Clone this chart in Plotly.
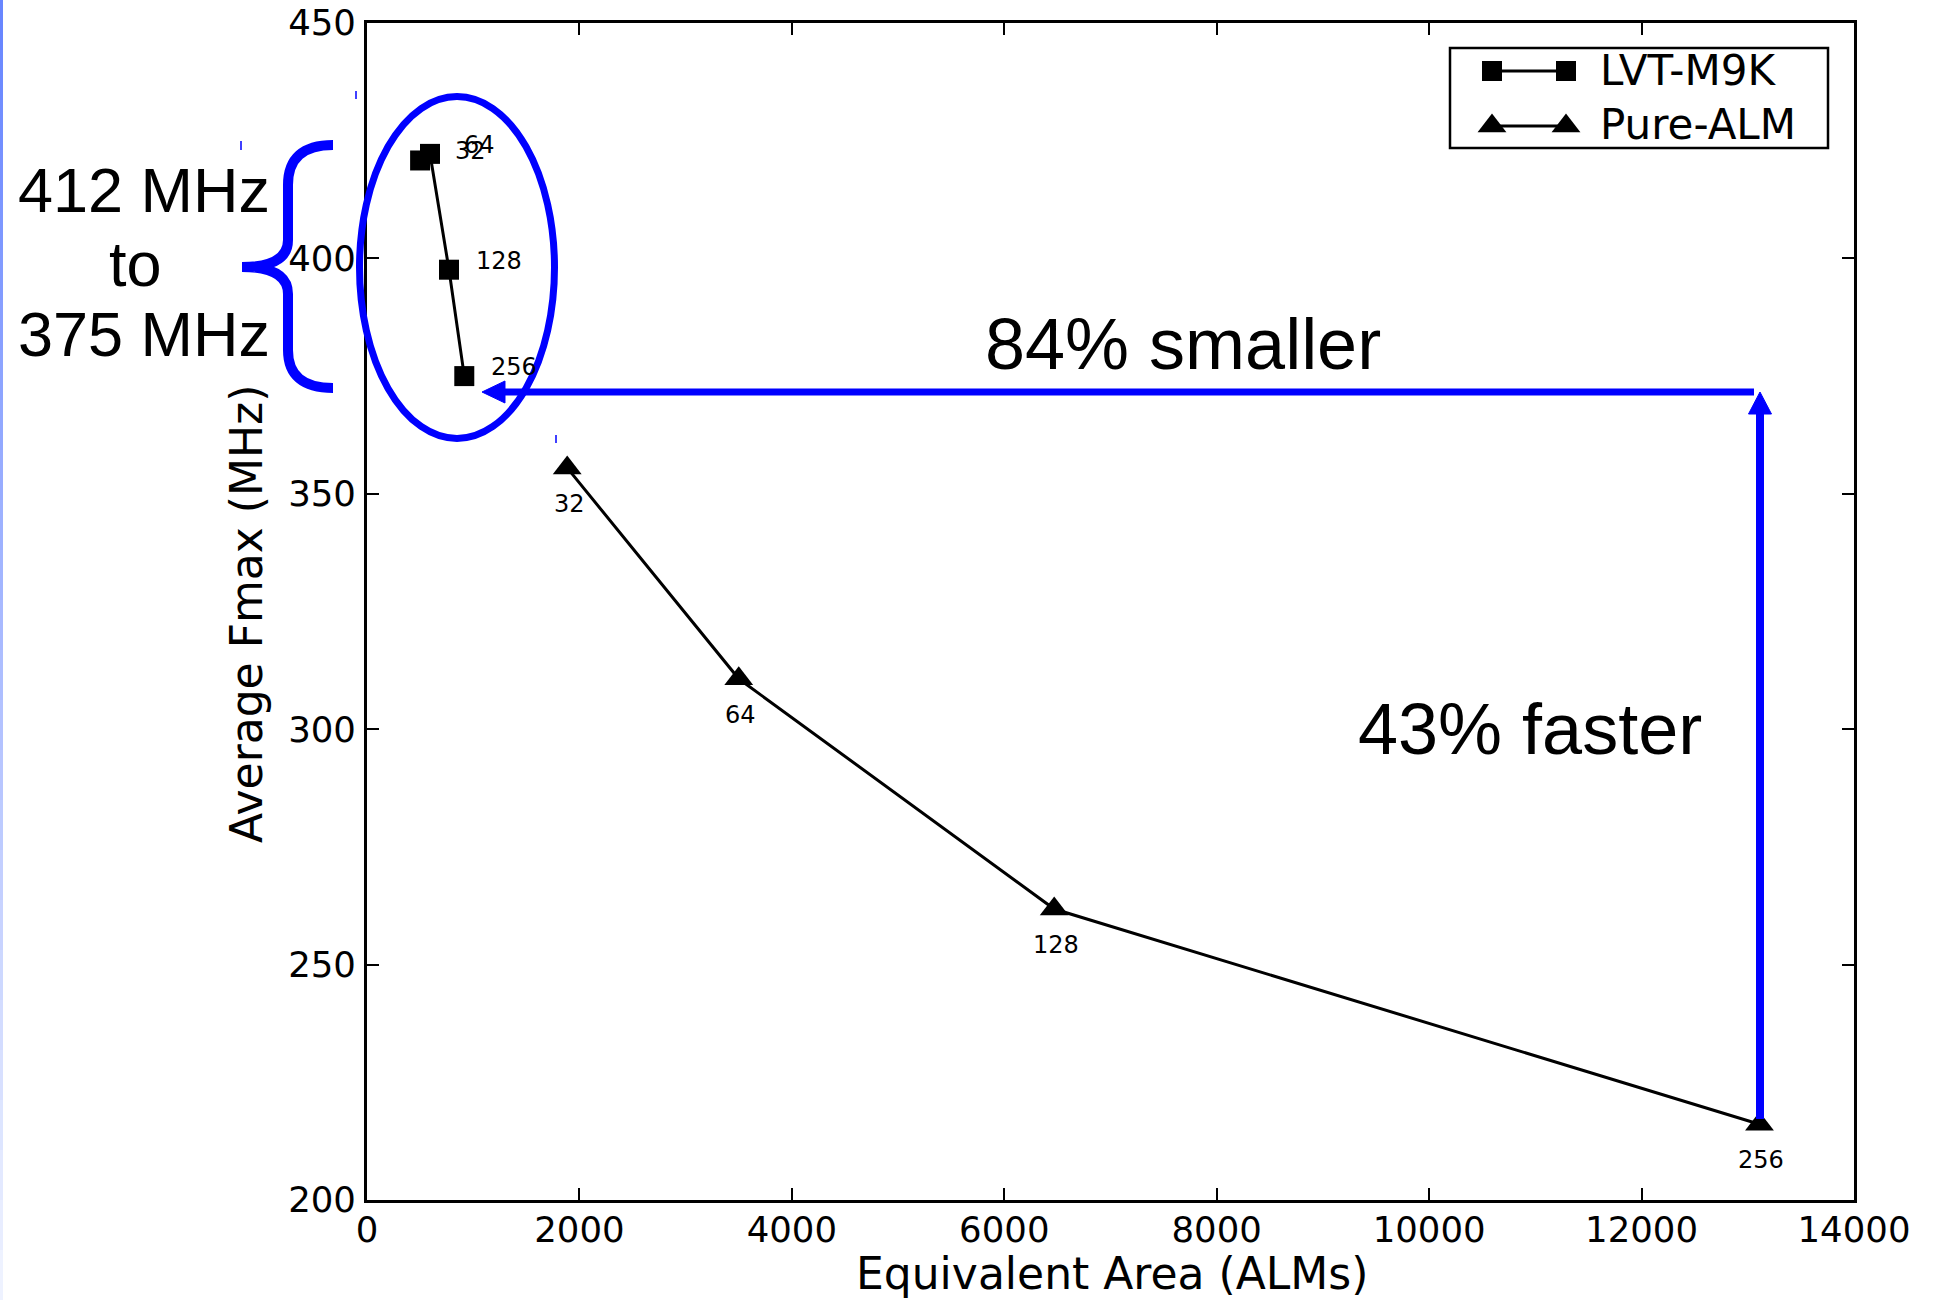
import plotly.graph_objects as go

# ---------------- data ----------------
lvt_area = [500, 593, 772, 916]
lvt_fmax = [420.8, 422.2, 397.6, 375.0]
lvt_labels = ["32", "64", "128", "256"]

alm_area = [1885, 3500, 6470, 13110]
alm_fmax = [355.5, 310.7, 261.8, 216.1]
alm_labels = ["32", "64", "128", "256"]

x_ticks = [0, 2000, 4000, 6000, 8000, 10000, 12000, 14000]
y_ticks = [200, 250, 300, 350, 400, 450]

series_names = ["LVT-M9K", "Pure-ALM"]

# ---------------- layout helpers (pixel -> paper) ----------------
FW, FH = 1937, 1300
L, R, T, B = 367, 1854, 23, 1200


def X(p):
    return (p - L) / (R - L)


def Y(p):
    return (B - p) / (B - T)


BLUE = "#0000ff"
DV = "DejaVu Sans"
AR = "Liberation Sans, Arial"
LW = 3
SQ = 20
TRI = 25

fig = go.Figure()

fig.add_trace(go.Scatter(
    x=lvt_area, y=lvt_fmax, mode="lines+markers", name=series_names[0],
    line=dict(color="black", width=LW),
    marker=dict(symbol="square", size=SQ, color="black"),
    cliponaxis=False, showlegend=False))

fig.add_trace(go.Scatter(
    x=alm_area, y=alm_fmax, mode="lines+markers", name=series_names[1],
    line=dict(color="black", width=LW),
    marker=dict(symbol="triangle-up", size=TRI, color="black"),
    cliponaxis=False, showlegend=False))

# ---------------- custom matplotlib-like legend ----------------
LEG = (1450, 48, 1828, 148)
row_y = [71, 125]
samp_x = [1492, 1566]
fig.add_trace(go.Scatter(
    x=samp_x, y=[row_y[0]] * 2, xaxis="x2", yaxis="y2", mode="lines+markers",
    line=dict(color="black", width=LW),
    marker=dict(symbol="square", size=SQ, color="black"),
    cliponaxis=False, showlegend=False, hoverinfo="skip"))
fig.add_trace(go.Scatter(
    x=samp_x, y=[row_y[1] + 1] * 2, xaxis="x2", yaxis="y2", mode="lines+markers",
    line=dict(color="black", width=LW),
    marker=dict(symbol="triangle-up", size=TRI, color="black"),
    cliponaxis=False, showlegend=False, hoverinfo="skip"))

annotations = []
for name, ry in zip(series_names, row_y):
    annotations.append(dict(
        x=1598, y=ry, xref="x2", yref="y2", text=name, showarrow=False,
        xanchor="left", yanchor="middle", font=dict(family=DV, size=42, color="black")))

# ---------------- point labels ----------------
for xv, yv, t in zip(lvt_area, lvt_fmax, lvt_labels):
    annotations.append(dict(
        x=xv, y=yv, xref="x", yref="y", text=t, showarrow=False,
        xshift=50, yshift=9, font=dict(family=DV, size=24, color="black")))
for xv, yv, t in zip(alm_area, alm_fmax, alm_labels):
    annotations.append(dict(
        x=xv, y=yv, xref="x", yref="y", text=t, showarrow=False,
        xshift=2, yshift=-36, font=dict(family=DV, size=24, color="black")))

# ---------------- axis titles ----------------
annotations.append(dict(
    x=X(1112), y=Y(1273), xref="paper", yref="paper", text="Equivalent Area (ALMs)",
    showarrow=False, xanchor="center", yanchor="middle",
    font=dict(family=DV, size=44, color="black")))
annotations.append(dict(
    x=X(246), y=Y(614), xref="paper", yref="paper", text="Average Fmax (MHz)",
    showarrow=False, xanchor="center", yanchor="middle", textangle=-90,
    font=dict(family=DV, size=44, color="black")))

# ---------------- callout texts ----------------
def big(text, cx, cy, size):
    annotations.append(dict(
        x=X(cx), y=Y(cy), xref="paper", yref="paper", text=text, showarrow=False,
        xanchor="center", yanchor="middle", font=dict(family=AR, size=size, color="black")))


big("84% smaller", 1183, 344, 72)
big("43% faster", 1530, 729, 72)
big("412 MHz", 144, 190, 63)
big("to", 135, 264, 63)
big("375 MHz", 144, 334, 63)

# ---------------- shapes ----------------
shapes = []

# left gradient strip
n = 26
c0, c1 = (104, 134, 255), (238, 242, 255)
for i in range(n):
    f = i / (n - 1)
    col = "rgb(%d,%d,%d)" % tuple(int(a + (b - a) * f) for a, b in zip(c0, c1))
    shapes.append(dict(type="rect", xref="paper", yref="paper",
                       x0=X(0), x1=X(3), y0=Y(i * 50), y1=Y((i + 1) * 50),
                       line=dict(width=0), fillcolor=col))

# ellipse
shapes.append(dict(type="circle", xref="paper", yref="paper",
                   x0=X(359.5), x1=X(554.5), y0=Y(438.5), y1=Y(96.5),
                   line=dict(color=BLUE, width=7)))

# brace
pts = [("M", 333, 145), ("Q", 288, 145, 288, 185), ("L", 288, 240),
       ("Q", 288, 267, 242, 267), ("Q", 288, 267, 288, 294), ("L", 288, 350),
       ("Q", 288, 388, 333, 388)]
path = ""
for p in pts:
    cmd = p[0]
    coords = p[1:]
    s = " ".join("%.5f,%.5f" % (X(coords[k]), Y(coords[k + 1])) for k in range(0, len(coords), 2))
    path += cmd + " " + s + " "
shapes.append(dict(type="path", xref="paper", yref="paper", path=path,
                   line=dict(color=BLUE, width=10)))

# horizontal arrow (84% smaller)
shapes.append(dict(type="line", xref="paper", yref="paper",
                   x0=X(1754), x1=X(500), y0=Y(392), y1=Y(392),
                   line=dict(color=BLUE, width=7)))
shapes.append(dict(type="path", xref="paper", yref="paper",
                   path="M %f,%f L %f,%f L %f,%f Z" % (X(482), Y(392), X(505), Y(381), X(505), Y(403)),
                   line=dict(color=BLUE, width=1), fillcolor=BLUE))

# vertical arrow (43% faster)
shapes.append(dict(type="line", xref="paper", yref="paper",
                   x0=X(1760), x1=X(1760), y0=Y(1119), y1=Y(410),
                   line=dict(color=BLUE, width=8)))
shapes.append(dict(type="path", xref="paper", yref="paper",
                   path="M %f,%f L %f,%f L %f,%f Z" % (X(1760), Y(392), X(1748.5), Y(414), X(1771.5), Y(414)),
                   line=dict(color=BLUE, width=1), fillcolor=BLUE))

# tiny blue artefact ticks
for tx, ty0, ty1 in [(356, 91, 99), (241, 141, 150), (556, 435, 443)]:
    shapes.append(dict(type="line", xref="paper", yref="paper",
                       x0=X(tx), x1=X(tx), y0=Y(ty0), y1=Y(ty1),
                       line=dict(color=BLUE, width=1.5)))

# legend frame
shapes.append(dict(type="rect", xref="paper", yref="paper",
                   x0=X(LEG[0]), x1=X(LEG[2]), y0=Y(LEG[3]), y1=Y(LEG[1]),
                   line=dict(color="black", width=2.5)))

axis_common = dict(
    showline=True, linecolor="black", linewidth=3, mirror="ticks",
    ticks="inside", ticklen=12, tickwidth=1.5, tickcolor="black",
    showgrid=False, zeroline=False, automargin=False,
    tickfont=dict(family=DV, size=35.5, color="black"),
)

fig.update_layout(
    width=FW, height=FH,
    margin=dict(l=L, r=FW - R, t=T, b=FH - B, autoexpand=False),
    paper_bgcolor="white", plot_bgcolor="rgba(0,0,0,0)",
    showlegend=False,
    xaxis=dict(range=[0, 14000], tickvals=x_ticks, ticktext=[str(v) for v in x_ticks],
               ticklabelstandoff=-4, **axis_common),
    yaxis=dict(range=[200, 450], tickvals=y_ticks, ticktext=[str(v) for v in y_ticks],
               ticklabelstandoff=1, **axis_common),
    xaxis2=dict(domain=[X(LEG[0]), X(LEG[2])], range=[LEG[0], LEG[2]], visible=False,
                anchor="y2", fixedrange=True, automargin=False),
    yaxis2=dict(domain=[Y(LEG[3]), Y(LEG[1])], range=[LEG[3], LEG[1]], visible=False,
                anchor="x2", fixedrange=True, automargin=False),
    annotations=annotations,
    shapes=shapes,
)

fig.write_html("out.html")
